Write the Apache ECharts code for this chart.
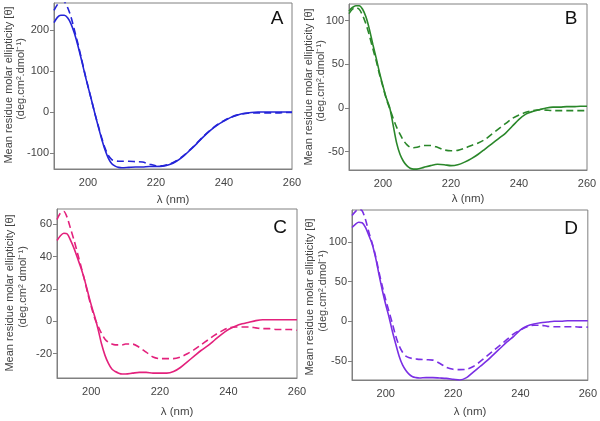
<!DOCTYPE html>
<html>
<head>
<meta charset="utf-8">
<script src="https://cdn.jsdelivr.net/npm/echarts@6/dist/echarts.min.js"></script>
<style>html,body{margin:0;padding:0;background:#fff}#c{width:600px;height:421px}</style>
</head>
<body>
<div id="c"></div>
<script>
// ---- data ----
const wl = [190,191,192,193,194,195,196,197,198,199,200,201,202,203,204,205,206,207,208,209,210,212,214,216,218,220,222,224,226,228,230,232,234,236,238,240,242,244,246,248,250,252,254,256,258,260];

const solidA  = [218,231,236,236,230,215,192,163,130,95,62,30,-3,-35,-65,-92,-113,-126,-132,-135,-136,-135,-134,-134,-133,-133,-132,-128,-120,-108,-93,-77,-60,-45,-32,-22,-13,-7,-3,-1,0,0,0,0,0,0];
const dashedA = [248,262,272,270,255,232,200,168,133,97,63,30,-3,-33,-62,-88,-106,-116,-119,-120,-120,-120,-121,-122,-127,-131,-131,-127,-119,-107,-92,-76,-59,-44,-31,-21,-13,-7,-4,-2,-2,-2,-2,-2,-1,-1];

const solidB  = [111,115,117,117,113,104,90,73,57,40,25,11,0,-20,-40,-53,-61,-66,-69,-70,-70,-68,-66,-64.5,-65,-66,-65,-62,-58,-53,-47,-41,-35,-29,-21,-13,-7,-4,-2,0,1,1,1.5,1.5,2,2];
const dashedB = [108,113,115,113,106,96,83,68,54,38,24,10,-1,-12,-22,-30,-37,-42,-45,-45.5,-45,-43,-43,-45,-48,-49,-48.5,-46,-43,-40,-36,-30,-24,-18,-12,-8,-5,-3,-2,-2.5,-3,-3,-3,-3,-3,-3];

const solidC  = [50,53,54.5,54,50,45,39,33,26,18,10,3,-5,-14,-21,-26,-29.5,-31,-32,-32.5,-32.5,-32,-31.5,-31.5,-32,-32,-32,-31,-28.5,-25,-21.5,-18,-15,-11.5,-8,-5,-3,-1.5,-0.5,0.5,1,1,1,1,1,1];
const dashedC = [63,67,68,64,57,50,42,34,26,17,9,2,-3,-7.5,-11,-13,-14,-14.5,-14.5,-14.5,-14,-14,-16,-19,-22,-23,-23,-23,-22,-20,-17.5,-14.5,-11.5,-8.5,-6,-4,-3.5,-3.5,-3.5,-4,-4.5,-4.5,-5,-5,-5,-5.5];

const solidD  = [118,122,124.5,124,118,108,97,80,59,39,21,5,-13,-29,-44,-55,-62,-67,-70,-71,-71.5,-71,-71,-71.5,-72,-73,-74,-71,-64,-57,-50,-42,-34,-26,-19,-11,-6,-3.5,-2,-1,0,0,0.5,0.5,0.5,0.5];
const dashedD = [133,138,141,139,128,112,98,82,62,44,27,12,-3,-19,-31,-39,-44,-46,-47,-47.5,-48,-48.5,-49,-53,-58,-60.5,-61,-60.5,-57,-51,-44,-37,-30,-23,-16,-11,-7,-5,-5,-6.5,-7,-7,-7,-7,-7.5,-7.5];

const xTicks = [200,220,240,260];
const yTicksA = [-100,0,100,200];
const yTicksB = [-50,0,50,100];
const yTicksC = [-20,0,20,40,60];
const yTicksD = [-50,0,50,100];

const panelLetters = ['A','B','C','D'];
const yTitle1 = 'Mean residue molar ellipticity [θ]';
const yTitle2 = ['(deg.cm².dmol⁻¹)','(deg.cm².dmol⁻¹)','(deg.cm² dmol⁻¹)','(deg.cm².dmol⁻¹)'];
const xTitle = 'λ (nm)';

// ---- layout / style ----
const FONT = 'Liberation Sans, Arial, sans-serif';
const panels = [
  {grid:{left:54,top:3,width:238,height:166}, yr:[-139,266], yt:yTicksA, s:solidA, d:dashedA, color:'#2424d8',
   letter:[277,19], t1x:8.5, t2x:21, ty:85, xt:[173,200]},
  {grid:{left:349,top:4,width:238,height:166}, yr:[-71,119], yt:yTicksB, s:solidB, d:dashedB, color:'#2a872a',
   letter:[571,19], t1x:308.5, t2x:320.5, ty:87, xt:[468,199]},
  {grid:{left:57,top:209,width:240,height:169}, yr:[-35,69.5], yt:yTicksC, s:solidC, d:dashedC, color:'#e3217c',
   letter:[280,227.5], t1x:9.5, t2x:22.5, ty:293, xt:[177,411.5]},
  {grid:{left:352,top:210,width:236.5,height:170}, yr:[-74,140], yt:yTicksD, s:solidD, d:dashedD, color:'#7a2fe4',
   letter:[571,229], t1x:310, t2x:322.5, ty:297, xt:[470,411.5]}
];

const zip = (xs, ys) => xs.map((x,i)=>[x, ys[i]]);

const grids=[], xAxes=[], yAxes=[], series=[], graphics=[];
panels.forEach((p,i)=>{
  grids.push(Object.assign({show:true, borderColor:'#808080', borderWidth:1, containLabel:false}, p.grid));
  xAxes.push({type:'value', gridIndex:i, min:190, max:260,
    axisLine:{show:true, onZero:false, lineStyle:{color:'#808080', width:1}},
    axisTick:{show:false},
    splitLine:{show:false},
    axisLabel:{customValues:xTicks, color:'#444', fontSize:11, fontFamily:FONT, margin:8}
  });
  yAxes.push({type:'value', gridIndex:i, min:p.yr[0], max:p.yr[1],
    axisLine:{show:true, onZero:false, lineStyle:{color:'#808080', width:1}},
    axisTick:{show:true, customValues:p.yt, length:4, lineStyle:{color:'#808080'}},
    splitLine:{show:false},
    axisLabel:{customValues:p.yt, color:'#444', fontSize:11, fontFamily:FONT, margin:5}
  });
  series.push({type:'line', xAxisIndex:i, yAxisIndex:i, data:zip(wl,p.s), showSymbol:false, smooth:0.3,
    lineStyle:{color:p.color, width:1.6}, itemStyle:{color:p.color}, clip:true, z:3});
  series.push({type:'line', xAxisIndex:i, yAxisIndex:i, data:zip(wl,p.d), showSymbol:false, smooth:0.3,
    lineStyle:{color:p.color, width:1.6, type:[7,4]}, itemStyle:{color:p.color}, clip:true, z:2});
  graphics.push({type:'text', x:p.letter[0], y:p.letter[1], style:{text:panelLetters[i], fill:'#111', font:'19px '+FONT, textAlign:'center', textVerticalAlign:'middle'}});
  graphics.push({type:'text', x:p.t1x, y:p.ty, rotation:Math.PI/2, style:{text:yTitle1, fill:'#444', font:'11px '+FONT, textAlign:'center', textVerticalAlign:'middle'}});
  graphics.push({type:'text', x:p.t2x, y:p.ty-6, rotation:Math.PI/2, style:{text:yTitle2[i], fill:'#444', font:'11px '+FONT, textAlign:'center', textVerticalAlign:'middle'}});
  graphics.push({type:'text', x:p.xt[0], y:p.xt[1], style:{text:xTitle, fill:'#444', font:'11.5px '+FONT, textAlign:'center', textVerticalAlign:'middle'}});
});

const chart = echarts.init(document.getElementById('c'), null, {renderer:'canvas'});
chart.setOption({
  animation:false,
  backgroundColor:'#fff',
  grid:grids, xAxis:xAxes, yAxis:yAxes, series:series, graphic:graphics
});
</script>
</body>
</html>
